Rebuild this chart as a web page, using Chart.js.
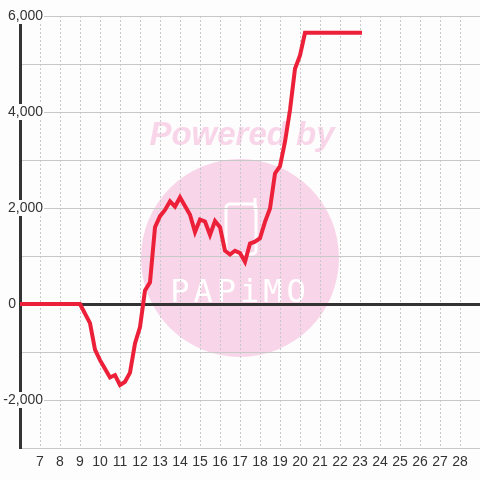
<!DOCTYPE html>
<html>
<head>
<meta charset="utf-8">
<script src="https://cdn.jsdelivr.net/npm/chart.js@4"></script>
<style>
  body { margin: 0; background: #fcfdfc; }
</style>
</head>
<body>
<canvas id="chart" width="480" height="480"></canvas>
<script>
// hour of day and value
const hours = [6, 9, 9.5, 9.75, 10, 10.25, 10.5, 10.75, 11, 11.25, 11.5, 11.75, 12, 12.25, 12.5, 12.75,
    13, 13.25, 13.5, 13.75, 14, 14.25, 14.5, 14.75, 15, 15.25, 15.5, 15.75, 16, 16.25, 16.5, 16.75,
    17, 17.25, 17.5, 17.75, 18, 18.25, 18.5, 18.75, 19, 19.25, 19.5, 19.75, 20, 20.25, 23.1];
const values = [0, 0, -400, -950, -1170, -1350, -1530, -1480, -1690, -1620, -1430, -820, -480, 280, 450, 1600,
    1830, 1960, 2140, 2030, 2220, 2040, 1860, 1500, 1760, 1720, 1440, 1730, 1600, 1110, 1030, 1110,
    1060, 880, 1260, 1300, 1370, 1710, 1990, 2720, 2870, 3380, 4040, 4900, 5180, 5650, 5650];
const xTickLabels = [7, 8, 9, 10, 11, 12, 13, 14, 15, 16, 17, 18, 19, 20, 21, 22, 23, 24, 25, 26, 27, 28];
const yTickLabels = [-2000, 0, 2000, 4000, 6000];

const bg = '#fcfdfc';
const fontFamily = "'Liberation Sans', Arial, sans-serif";

// background + "Powered by PAPiMO" watermark under the grid
const watermark = {
    id: 'watermark',
    beforeDraw(chart) {
        const c = chart.ctx;
        c.save();
        c.fillStyle = bg;
        c.fillRect(0, 0, chart.width, chart.height);
        const pink = '#f9d5e9';
        c.fillStyle = pink;
        c.beginPath();
        c.arc(240, 258, 99, 0, Math.PI * 2);
        c.fill();
        c.font = "italic bold 33px " + fontFamily;
        c.textAlign = 'center';
        c.textBaseline = 'alphabetic';
        c.fillText('Powered by', 242, 145);
        // logo
        c.strokeStyle = '#fff';
        c.lineWidth = 3;
        c.beginPath();
        c.roundRect(226, 204, 30, 50, 4);
        c.stroke();
        c.beginPath();
        c.moveTo(255, 198);
        c.lineTo(255, 210);
        c.stroke();
        c.fillStyle = '#fff';
        c.font = "32px 'DejaVu Sans Mono', monospace";
        c.letterSpacing = '4px';
        c.fillText('PAPiMO', 240, 302);
        c.restore();
    }
};

// y labels drawn by hand: white box over the axis, zero label left of it
const yLabels = {
    id: 'yLabels',
    afterDraw(chart) {
        const c = chart.ctx;
        const y = chart.scales.y;
        c.save();
        c.font = "14px " + fontFamily;
        c.textBaseline = 'middle';
        c.textAlign = 'right';
        yTickLabels.forEach(function(v) {
            const py = y.getPixelForValue(v);
            const txt = v.toLocaleString('en-US');
            const w = c.measureText(txt).width;
            if (v === 0) {
                c.fillStyle = '#333';
                c.fillText(txt, 16, py);
                return;
            }
            c.fillStyle = bg;
            c.fillRect(43 - w - 1, py - 8, w + 2, 16);
            c.fillStyle = '#333';
            c.fillText(txt, 43, py);
        });
        c.restore();
    }
};

const points = hours.map(function(h, i) { return {x: h, y: values[i]}; });

var ctx = document.getElementById('chart').getContext('2d');
var chart = new Chart(ctx, {
    type: 'line',
    data: {
        datasets: [{
            data: points,
            borderColor: '#ec2038',
            borderWidth: 4,
            pointRadius: 0,
            tension: 0,
            fill: false
        }]
    },
    options: {
        responsive: false,
        animation: false,
        layout: { padding: { top: 16, left: 0, right: 0, bottom: 0 } },
        plugins: { legend: { display: false }, tooltip: { enabled: false } },
        scales: {
            x: {
                type: 'linear',
                min: 6,
                max: 29,
                afterFit: function(s) {
                    s.height = 32;
                    s.paddingLeft = 0;
                    s.paddingRight = 0;
                },
                ticks: {
                    stepSize: 1,
                    autoSkip: false,
                    maxRotation: 0,
                    padding: 6,
                    color: '#333',
                    font: { size: 14, family: fontFamily },
                    callback: function(v) { return xTickLabels.includes(v) ? String(v) : ''; }
                },
                grid: { color: '#c8c8c8', lineWidth: 1, drawTicks: false },
                border: { color: '#c8c8c8', width: 1, dash: [2, 2] }
            },
            y: {
                min: -3000,
                max: 6000,
                afterFit: function(s) {
                    s.width = 20;
                    s.paddingTop = 0;
                    s.paddingBottom = 0;
                },
                ticks: { stepSize: 1000, display: false },
                grid: {
                    drawTicks: false,
                    color: function(c) { return c.tick && c.tick.value === 0 ? '#333' : '#c8c8c8'; },
                    lineWidth: function(c) { return c.tick && c.tick.value === 0 ? 3 : 1; }
                },
                border: { color: '#333', width: 3 }
            }
        }
    },
    plugins: [watermark, yLabels]
});
</script>
</body>
</html>
